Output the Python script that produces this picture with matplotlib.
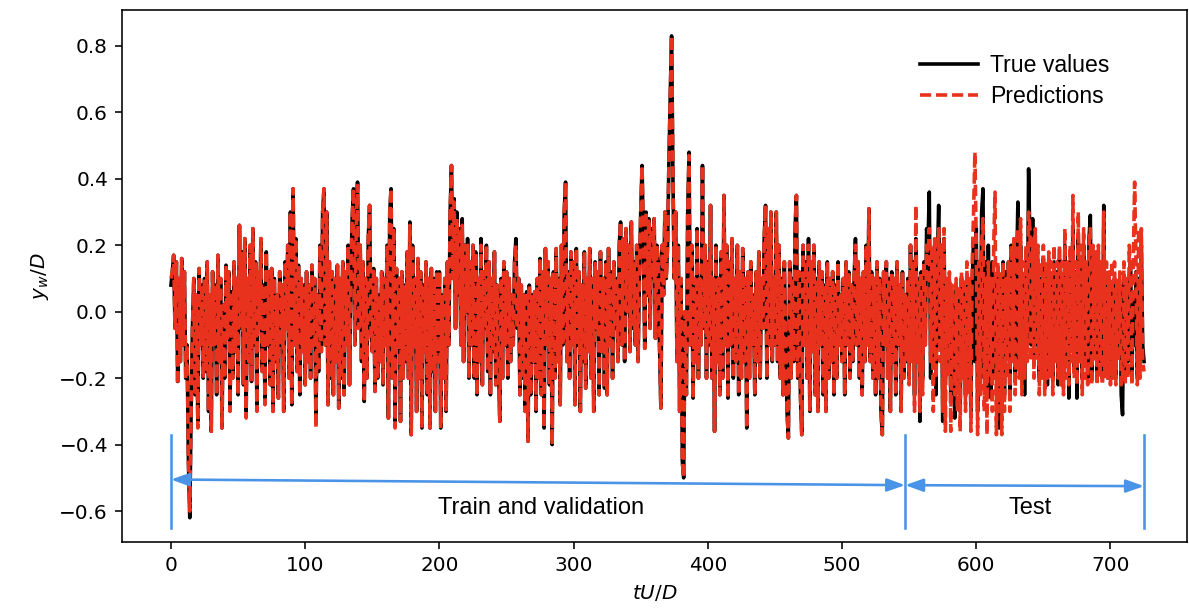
import matplotlib
matplotlib.use('Agg')
import matplotlib.pyplot as plt
import numpy as np

# passo de tempo entre amostras (tU/D)
dt = 1.0

# valores verdadeiros, uma linha = 25 unidades de tempo
true_vals = [
    0.08, 0.12, 0.17, -0.05, 0.15, -0.21, 0.10, -0.15, 0.16, -0.10, 0.12, -0.20, -0.10, -0.45, -0.62, -0.30, -0.05, 0.10, -0.25, 0.05, -0.33, 0.13, -0.10, 0.08, -0.20,
    0.10, -0.18, 0.15, -0.30, 0.05, -0.36, 0.12, -0.10, 0.08, -0.25, 0.17, -0.15, 0.10, -0.35, 0.02, -0.20, 0.14, -0.08, 0.12, -0.28, 0.06, -0.20, 0.15, -0.12, 0.10,
    -0.25, 0.26, -0.05, 0.18, -0.22, 0.22, -0.30, 0.10, -0.15, 0.20, -0.21, 0.25, -0.10, 0.15, -0.28, 0.12, -0.05, 0.22, -0.18, 0.08, -0.26, 0.18, -0.10, 0.12, -0.22,
    0.13, -0.30, 0.10, -0.15, 0.05, -0.26, 0.12, -0.10, 0.08, -0.30, 0.15, -0.05, 0.20, -0.20, 0.30, -0.28, 0.37, -0.10, 0.22, -0.18, 0.14, -0.25, 0.10, -0.12, 0.08,
    -0.22, 0.12, -0.15, 0.08, -0.20, 0.14, -0.10, 0.10, -0.33, 0.05, -0.18, 0.20, -0.12, 0.30, 0.37, -0.10, 0.30, -0.28, 0.15, -0.20, 0.12, -0.25, 0.10, -0.15, 0.14,
    -0.29, 0.10, -0.20, 0.15, -0.25, 0.12, -0.10, 0.20, -0.22, 0.10, 0.28, 0.37, -0.10, 0.25, 0.39, -0.05, 0.20, -0.15, 0.15, -0.27, 0.10, -0.20, 0.22, 0.32, -0.05,
    -0.12, 0.13, -0.24, 0.10, -0.20, 0.05, -0.15, 0.12, -0.22, 0.10, -0.10, 0.20, -0.32, 0.30, 0.37, -0.20, 0.25, -0.33, 0.13, -0.10, 0.10, -0.33, 0.12, -0.20, 0.08,
    -0.15, 0.18, -0.20, 0.27, -0.37, 0.20, -0.10, 0.10, -0.30, 0.16, -0.20, 0.12, -0.35, 0.08, -0.12, 0.15, -0.25, 0.10, -0.35, 0.13, -0.18, 0.10, -0.30, 0.12, -0.15,
    0.12, -0.35, 0.05, -0.20, 0.10, -0.30, 0.15, -0.10, 0.30, 0.44, 0.10, 0.34, -0.05, 0.30, 0.05, 0.25, -0.10, 0.28, -0.15, 0.20, 0.00, 0.22, -0.20, 0.15, -0.10,
    0.20, -0.20, 0.18, -0.25, 0.10, -0.15, 0.22, -0.22, 0.12, -0.05, 0.20, -0.18, 0.15, -0.25, 0.10, -0.12, 0.18, -0.22, 0.08, -0.15, -0.33, 0.10, -0.20, 0.15, -0.10,
    0.12, -0.20, 0.10, -0.15, 0.05, -0.10, 0.15, 0.22, -0.05, 0.10, -0.25, 0.08, -0.20, 0.05, -0.30, 0.06, -0.39, 0.08, -0.25, 0.05, -0.15, 0.06, -0.30, 0.10, -0.20,
    0.16, -0.25, 0.12, -0.35, 0.19, -0.10, 0.15, -0.22, 0.10, -0.40, 0.12, -0.20, 0.19, -0.15, 0.10, -0.28, 0.20, -0.10, 0.30, 0.39, -0.15, 0.12, -0.20, 0.18, -0.10,
    0.15, -0.28, 0.19, -0.10, 0.12, -0.30, 0.08, -0.15, 0.18, -0.23, 0.10, -0.12, 0.19, -0.20, 0.10, -0.30, 0.15, -0.05, 0.12, -0.25, 0.18, -0.12, 0.10, -0.23, 0.15,
    -0.25, 0.19, -0.10, 0.12, -0.20, 0.15, -0.05, 0.10, -0.15, 0.20, 0.27, -0.10, 0.22, -0.15, 0.25, 0.00, 0.20, -0.12, 0.27, -0.05, 0.15, -0.10, 0.20, -0.15, 0.10,
    0.30, 0.44, 0.20, -0.11, 0.30, 0.05, 0.28, -0.05, 0.25, 0.10, 0.28, -0.08, 0.20, 0.15, -0.10, -0.29, 0.20, 0.05, 0.30, 0.10, 0.20, 0.45, 0.65, 0.83, 0.40,
    0.10, 0.30, -0.15, 0.20, -0.30, 0.10, -0.45, -0.50, 0.00, -0.25, 0.30, 0.48, -0.10, 0.20, -0.26, 0.10, -0.15, 0.25, -0.20, 0.10, -0.10, 0.44, -0.05, 0.20, -0.20,
    0.15, -0.10, 0.32, -0.20, 0.10, -0.36, 0.20, -0.15, 0.10, -0.25, 0.18, -0.20, 0.35, -0.10, 0.20, -0.26, 0.15, -0.10, 0.22, -0.20, 0.10, -0.15, 0.20, -0.25, 0.12,
    -0.20, 0.19, -0.15, 0.10, -0.35, 0.12, -0.20, 0.15, -0.10, 0.05, -0.25, 0.12, -0.15, 0.18, -0.20, 0.10, -0.05, 0.22, 0.32, -0.20, 0.25, -0.10, 0.30, -0.15, 0.10,
    -0.10, 0.30, -0.15, 0.20, -0.20, 0.10, -0.25, 0.15, -0.10, -0.30, -0.38, 0.15, -0.20, 0.10, -0.15, 0.25, 0.35, -0.20, 0.12, -0.25, -0.37, 0.20, -0.10, 0.15, -0.20,
    0.22, -0.30, 0.15, -0.12, 0.20, -0.25, 0.10, -0.30, 0.15, -0.10, 0.12, -0.25, 0.08, -0.30, 0.15, -0.20, 0.10, -0.15, 0.12, -0.25, 0.08, -0.20, 0.15, -0.10, 0.05,
    -0.15, 0.10, -0.25, 0.15, -0.10, 0.12, -0.20, 0.08, -0.15, 0.10, 0.22, -0.10, 0.15, -0.20, 0.10, -0.25, 0.12, -0.15, 0.20, -0.10, 0.31, -0.15, 0.12, -0.20, 0.10,
    -0.25, 0.15, -0.20, 0.10, -0.30, -0.37, 0.12, -0.10, 0.15, -0.20, 0.10, -0.30, 0.12, -0.15, 0.10, -0.25, 0.15, -0.10, 0.08, -0.30, 0.12, -0.20, 0.05, -0.15, 0.10,
    -0.20, 0.20, -0.10, 0.15, -0.25, 0.22, -0.15, 0.10, -0.33, 0.12, -0.20, 0.15, -0.10, 0.25, 0.20, 0.36, -0.20, 0.15, -0.15, 0.20, -0.25, 0.15, 0.32, -0.10, 0.20,
    -0.33, 0.22, -0.20, 0.10, -0.15, 0.09, -0.25, 0.05, -0.10, -0.32, 0.08, -0.20, 0.05, -0.30, 0.10, -0.15, 0.08, -0.25, 0.10, -0.20, 0.05, -0.30, 0.10, 0.20, -0.15,
    0.25, -0.30, 0.15, -0.20, 0.30, 0.37, -0.20, 0.15, -0.26, 0.20, -0.10, -0.26, 0.15, -0.20, 0.10, -0.15, 0.12, -0.35, 0.10, -0.20, 0.15, -0.25, 0.12, -0.10, 0.15,
    -0.25, 0.20, -0.10, 0.15, -0.20, 0.10, 0.33, -0.15, 0.20, -0.20, 0.10, -0.25, 0.15, -0.10, 0.43, 0.20, -0.10, 0.28, -0.15, 0.20, -0.10, 0.15, -0.20, 0.10, -0.15,
    0.16, -0.20, 0.10, -0.22, 0.12, -0.15, 0.10, -0.20, 0.15, -0.10, 0.12, -0.22, 0.16, -0.18, 0.10, -0.20, 0.20, -0.15, 0.10, -0.26, 0.15, -0.10, 0.25, -0.18, 0.12,
    -0.26, 0.22, -0.10, 0.15, -0.20, 0.20, -0.15, 0.10, -0.20, 0.22, 0.29, -0.20, 0.15, -0.10, 0.12, -0.20, 0.15, -0.15, 0.10, -0.20, 0.32, -0.15, 0.10, -0.20, 0.08,
    -0.20, 0.08, -0.15, 0.10, -0.20, 0.05, -0.10, 0.08, -0.25, -0.31, 0.10, -0.20, 0.05, -0.15, 0.10, 0.15, -0.20, 0.05, -0.10, 0.12, -0.20, 0.10, -0.05, 0.20, -0.10,
    -0.15,
]

# previsoes do modelo
pred_vals = [
    0.10, 0.12, 0.17, -0.05, 0.15, -0.22, 0.10, -0.15, 0.16, -0.10, 0.12, -0.20, -0.10, -0.45, -0.60, -0.30, -0.05, 0.10, -0.25, 0.05, -0.35, 0.13, -0.10, 0.08, -0.20,
    0.10, -0.18, 0.15, -0.30, 0.05, -0.36, 0.12, -0.10, 0.08, -0.25, 0.17, -0.15, 0.10, -0.35, 0.02, -0.20, 0.14, -0.08, 0.12, -0.30, 0.06, -0.20, 0.15, -0.12, 0.10,
    -0.25, 0.26, -0.05, 0.18, -0.22, 0.22, -0.32, 0.10, -0.15, 0.20, -0.21, 0.25, -0.10, 0.15, -0.30, 0.12, -0.05, 0.22, -0.18, 0.08, -0.28, 0.18, -0.10, 0.12, -0.22,
    0.13, -0.30, 0.10, -0.15, 0.05, -0.26, 0.12, -0.10, 0.08, -0.30, 0.15, -0.05, 0.20, -0.20, 0.30, -0.28, 0.37, -0.10, 0.22, -0.18, 0.14, -0.25, 0.10, -0.12, 0.08,
    -0.22, 0.12, -0.15, 0.08, -0.20, 0.14, -0.10, 0.10, -0.35, 0.05, -0.18, 0.20, -0.12, 0.30, 0.37, -0.10, 0.30, -0.28, 0.15, -0.20, 0.12, -0.25, 0.10, -0.15, 0.14,
    -0.29, 0.10, -0.20, 0.15, -0.25, 0.12, -0.10, 0.20, -0.22, 0.10, 0.28, 0.37, -0.10, 0.25, 0.38, -0.05, 0.20, -0.15, 0.15, -0.27, 0.10, -0.20, 0.22, 0.32, -0.05,
    -0.12, 0.13, -0.24, 0.10, -0.20, 0.05, -0.15, 0.12, -0.22, 0.10, -0.10, 0.20, -0.32, 0.30, 0.37, -0.20, 0.25, -0.35, 0.13, -0.10, 0.10, -0.33, 0.12, -0.20, 0.08,
    -0.15, 0.18, -0.20, 0.26, -0.37, 0.20, -0.10, 0.10, -0.30, 0.16, -0.20, 0.12, -0.35, 0.08, -0.12, 0.15, -0.25, 0.10, -0.35, 0.13, -0.18, 0.10, -0.30, 0.12, -0.15,
    0.12, -0.35, 0.05, -0.20, 0.10, -0.30, 0.15, -0.10, 0.30, 0.44, 0.10, 0.33, -0.05, 0.28, 0.05, 0.25, -0.10, 0.26, -0.15, 0.20, 0.00, 0.20, -0.20, 0.15, -0.10,
    0.20, -0.20, 0.18, -0.25, 0.10, -0.15, 0.20, -0.22, 0.12, -0.05, 0.20, -0.18, 0.15, -0.25, 0.10, -0.12, 0.18, -0.22, 0.08, -0.15, -0.33, 0.10, -0.20, 0.15, -0.10,
    0.12, -0.20, 0.10, -0.15, 0.05, -0.10, 0.15, 0.20, -0.05, 0.10, -0.25, 0.08, -0.20, 0.05, -0.30, 0.06, -0.39, 0.08, -0.25, 0.05, -0.15, 0.06, -0.30, 0.10, -0.20,
    0.16, -0.25, 0.12, -0.35, 0.19, -0.10, 0.15, -0.22, 0.10, -0.40, 0.12, -0.20, 0.19, -0.15, 0.10, -0.28, 0.20, -0.10, 0.30, 0.39, -0.15, 0.12, -0.20, 0.18, -0.10,
    0.15, -0.28, 0.19, -0.10, 0.12, -0.30, 0.08, -0.15, 0.18, -0.23, 0.10, -0.12, 0.19, -0.20, 0.10, -0.30, 0.15, -0.05, 0.12, -0.25, 0.18, -0.12, 0.10, -0.23, 0.15,
    -0.25, 0.19, -0.10, 0.12, -0.20, 0.15, -0.05, 0.10, -0.15, 0.20, 0.27, -0.10, 0.22, -0.15, 0.25, 0.00, 0.20, -0.12, 0.27, -0.05, 0.15, -0.10, 0.20, -0.15, 0.10,
    0.30, 0.44, 0.20, -0.11, 0.30, 0.05, 0.28, -0.05, 0.25, 0.10, 0.28, -0.08, 0.20, 0.15, -0.10, -0.29, 0.20, 0.05, 0.30, 0.10, 0.20, 0.45, 0.65, 0.83, 0.40,
    0.10, 0.30, -0.15, 0.20, -0.30, 0.10, -0.45, -0.50, 0.00, -0.25, 0.30, 0.47, -0.10, 0.20, -0.26, 0.10, -0.15, 0.25, -0.20, 0.10, -0.10, 0.44, -0.05, 0.20, -0.20,
    0.15, -0.10, 0.32, -0.20, 0.10, -0.36, 0.20, -0.15, 0.10, -0.25, 0.18, -0.20, 0.35, -0.10, 0.20, -0.26, 0.15, -0.10, 0.22, -0.20, 0.10, -0.15, 0.20, -0.25, 0.12,
    -0.20, 0.19, -0.15, 0.10, -0.35, 0.12, -0.20, 0.15, -0.10, 0.05, -0.25, 0.12, -0.15, 0.18, -0.20, 0.10, -0.05, 0.22, 0.32, -0.20, 0.25, -0.10, 0.30, -0.15, 0.10,
    -0.10, 0.30, -0.15, 0.20, -0.20, 0.10, -0.25, 0.15, -0.10, -0.30, -0.38, 0.15, -0.20, 0.10, -0.15, 0.25, 0.35, -0.20, 0.12, -0.25, -0.37, 0.20, -0.10, 0.15, -0.20,
    0.20, -0.30, 0.15, -0.12, 0.20, -0.25, 0.10, -0.30, 0.15, -0.10, 0.12, -0.25, 0.08, -0.30, 0.15, -0.20, 0.10, -0.15, 0.12, -0.25, 0.08, -0.20, 0.15, -0.10, 0.05,
    -0.15, 0.10, -0.25, 0.15, -0.10, 0.12, -0.20, 0.08, -0.15, 0.10, 0.20, -0.10, 0.15, -0.20, 0.10, -0.25, 0.12, -0.15, 0.20, -0.10, 0.31, -0.15, 0.12, -0.20, 0.10,
    -0.25, 0.15, -0.20, 0.10, -0.30, -0.37, 0.12, -0.10, 0.15, -0.20, 0.10, -0.30, 0.12, -0.15, 0.10, -0.25, 0.15, -0.10, 0.08, -0.30, 0.12, -0.20, 0.05, -0.15, 0.10,
    -0.22, 0.20, -0.15, 0.15, -0.30, 0.32, -0.15, 0.10, -0.30, 0.12, -0.25, 0.15, -0.10, 0.20, 0.15, 0.25, -0.15, 0.20, -0.30, 0.22, -0.20, 0.15, 0.25, -0.15, 0.20,
    -0.30, 0.25, -0.36, 0.10, -0.20, 0.12, -0.36, 0.08, -0.15, -0.25, 0.10, -0.30, 0.08, -0.36, 0.12, -0.20, 0.10, -0.30, 0.15, -0.25, 0.10, -0.36, 0.15, 0.30, 0.48,
    0.20, -0.37, 0.15, -0.25, 0.20, 0.28, -0.30, 0.10, -0.37, 0.15, -0.20, 0.10, -0.30, 0.20, 0.36, -0.37, 0.15, -0.30, 0.12, -0.37, 0.15, -0.30, 0.10, -0.20, 0.15,
    -0.30, 0.20, -0.15, 0.22, -0.25, 0.15, 0.25, -0.20, 0.28, -0.25, 0.15, -0.20, 0.20, -0.15, 0.30, 0.25, -0.15, 0.22, -0.20, 0.25, -0.15, 0.20, -0.25, 0.15, -0.20,
    0.20, -0.25, 0.15, -0.20, 0.18, -0.20, 0.15, -0.25, 0.20, -0.15, 0.15, -0.20, 0.20, -0.22, 0.15, -0.25, 0.25, -0.20, 0.15, -0.22, 0.20, -0.15, 0.35, -0.20, 0.15,
    -0.22, 0.30, -0.15, 0.20, -0.25, 0.25, -0.20, 0.15, -0.22, 0.20, 0.25, -0.22, 0.20, -0.15, 0.18, -0.22, 0.20, -0.20, 0.15, -0.22, 0.30, -0.20, 0.15, -0.20, 0.12,
    -0.22, 0.15, -0.20, 0.15, -0.22, 0.10, -0.15, 0.12, -0.22, -0.20, 0.15, -0.22, 0.10, -0.20, 0.20, 0.10, -0.22, 0.15, 0.39, 0.15, -0.22, 0.25, -0.20, 0.25, -0.15,
    -0.18,
]

# limites dos trechos (treino+validacao / teste)
split_edges = [0, 547, 725]
split_labels = ['Train and validation', 'Test']

t = np.arange(len(true_vals)) * dt

blue = '#4a94e8'
red = '#e8321e'

fig = plt.figure(figsize=(1189 / 144, 614 / 144), dpi=144)
ax = fig.add_axes([0.1026, 0.1173, 0.8957, 0.8664])

ax.plot(t, true_vals, color='black', lw=1.8, label='True values')
ax.plot(t, pred_vals, color=red, lw=1.8, linestyle='--', dashes=(3.1, 1.35), label='Predictions')

ax.set_xlim(-36.5, 757)
ax.set_ylim(-0.693, 0.908)
ax.set_xlabel('$tU/D$')
ax.set_ylabel('$y_w/D$')

# anotacoes dos trechos
for xe in split_edges:
    ax.plot([xe, xe], [-0.37, -0.65], color=blue, lw=1.3)

arrow = dict(arrowstyle='<|-|>,head_length=0.5,head_width=0.18', color=blue,
             lw=1.3, mutation_scale=15, shrinkA=0, shrinkB=0)
ax.annotate('', xy=(split_edges[0], -0.505), xytext=(split_edges[1], -0.522), arrowprops=arrow)
ax.annotate('', xy=(split_edges[1], -0.522), xytext=(split_edges[2], -0.525), arrowprops=arrow)

ax.text(276, -0.59, split_labels[0], ha='center', va='center',
        family='Liberation Sans', fontsize=11.8)
ax.text(640, -0.59, split_labels[1], ha='center', va='center',
        family='Liberation Sans', fontsize=11.8)

ax.legend(loc='upper left', bbox_to_anchor=(0.7738, 0.9113), bbox_transform=fig.transFigure,
          frameon=False, borderpad=0, borderaxespad=0, handlelength=2.5,
          handletextpad=0.55, labelspacing=0.33,
          prop={'family': 'Liberation Sans', 'size': 11.5})

fig.savefig('out.png', dpi=144)
